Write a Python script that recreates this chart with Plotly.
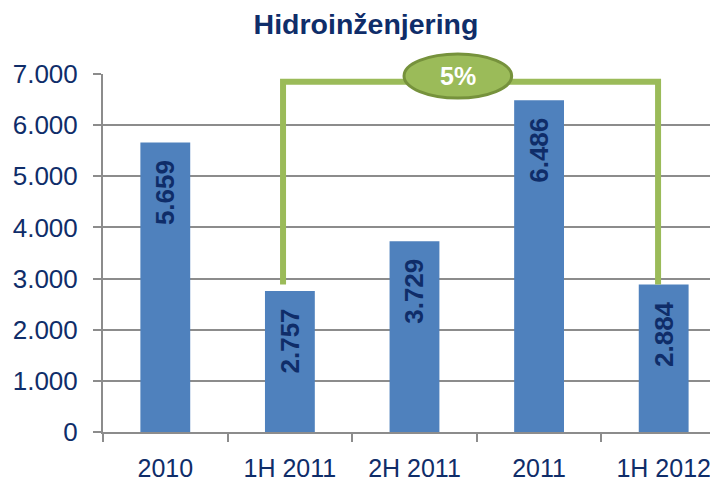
import plotly.graph_objects as go

categories = ["2010", "1H 2011", "2H 2011", "2011", "1H 2012"]
values = [5659, 2757, 3729, 6486, 2884]
growth_label = "5%"
title_text = "Hidroinženjering"

NAVY = "#0F2D69"
BAR = "#4F81BD"
GREEN = "#9BBB59"
GREEN_DARK = "#76923C"
GRID = "#8C8C8C"
FONT = "Liberation Sans, Arial"

fig = go.Figure()
fig.add_trace(go.Bar(
    x=categories, y=values,
    marker=dict(color=BAR, line=dict(width=0)),
    width=0.4,
    texttemplate="%{y:,d}\u00a0\u00a0",
    textposition="inside",
    insidetextanchor="end",
    textangle=-90,
    constraintext="none",
    textfont=dict(family=FONT, size=26, color=NAVY, weight="bold"),
    hoverinfo="skip",
))

# bracket between 1H 2011 and 1H 2012
bottom = max(values[1], values[4])
top = 6850
xl, xr = 0.945, 3.955
fig.add_shape(type="path",
              path=f"M {xl},{bottom} L {xl},{top} L {xr},{top} L {xr},{bottom}",
              xref="x", yref="y", line=dict(color=GREEN, width=6), layer="above")
fig.add_shape(type="circle", xref="x", yref="paper",
              x0=1.916, x1=2.78, y0=0.933, y1=1.056,
              fillcolor=GREEN, line=dict(color=GREEN_DARK, width=3), layer="above")
fig.add_annotation(x=2.35, xref="x", y=0.994, yref="paper", text=growth_label,
                   showarrow=False, xanchor="center", yanchor="middle",
                   font=dict(family=FONT, size=25, color="white", weight="bold"))

fig.update_layout(
    width=710, height=475,
    margin=dict(l=95, r=0, t=66, b=51),
    paper_bgcolor="white", plot_bgcolor="white",
    separators=",.",
    showlegend=False,
    title=dict(text=title_text, x=358 / 710, xanchor="center", y=1 - 16 / 475, yanchor="middle",
               xref="container", yref="container",
               font=dict(family=FONT, size=28.5, color=NAVY, weight="bold")),
    xaxis=dict(type="category", range=[-0.5, 4.436], tickson="boundaries",
               ticks="outside", ticklen=8, tickwidth=2, tickcolor=GRID,
               showline=True, linecolor=GRID, linewidth=2, showgrid=False,
               ticklabelstandoff=13,
               tickfont=dict(family=FONT, size=25, color=NAVY)),
    yaxis=dict(range=[0, 7000], dtick=1000, tickformat=",d",
               ticks="outside", ticklen=8, tickwidth=2, tickcolor=GRID,
               showline=True, linecolor=GRID, linewidth=2,
               showgrid=True, gridcolor=GRID, gridwidth=2, zeroline=False,
               ticklabelstandoff=10,
               tickfont=dict(family=FONT, size=26, color=NAVY)),
)

fig.write_html("out.html")
